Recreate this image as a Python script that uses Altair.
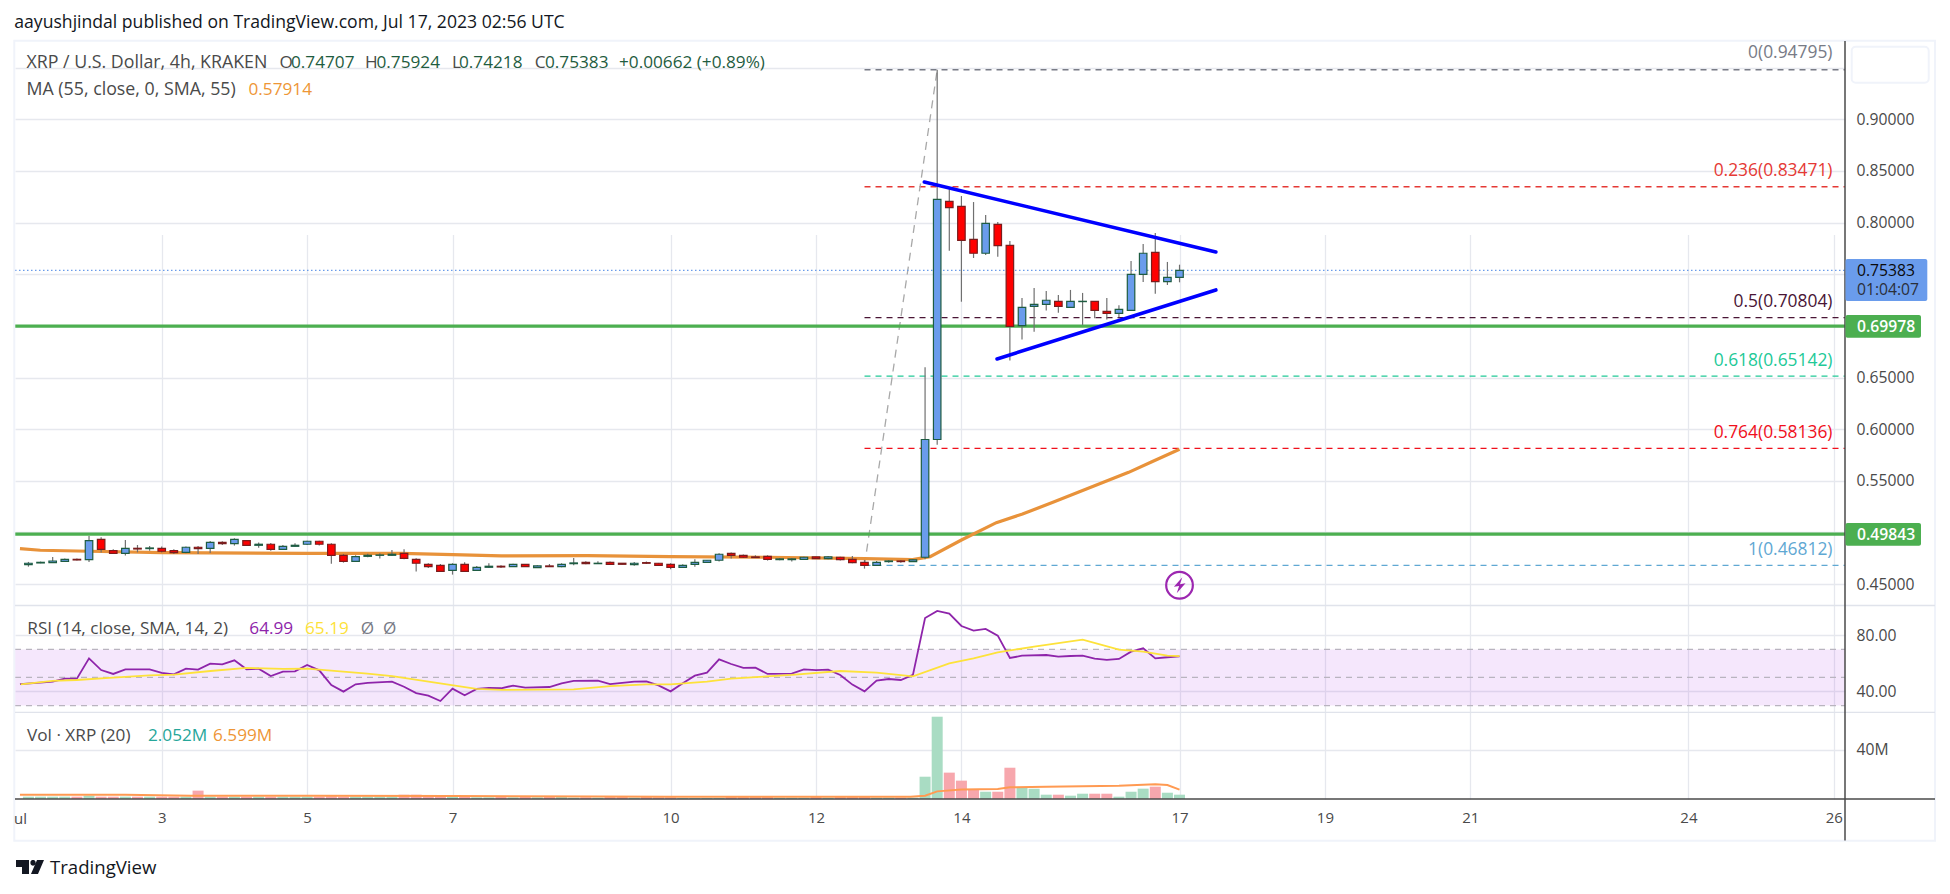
import altair as alt
import pandas as pd

FONT = "Open Sans"
TXT = 17.2
AXIS_TXT = 15.7

# ---------- data ----------
first_day = 1 + 1 / 6
bars_per_day = 6

opens = [.4689,.4705,.4708,.4721,.4740,.4737,.4934,.4824,.4798,.4847,.4844,.4847,.4824,.4808,.4857,.4847,.4905,.4892,.4921,.4876,
         .4886,.4837,.4866,.4886,.4915,.4886,.4779,.4721,.4769,.4779,.4779,.4798,.4740,.4692,.4682,.4634,.4692,.4634,.4663,.4673,
         .4669,.4692,.4660,.4676,.4669,.4698,.4711,.4698,.4711,.4702,.4689,.4708,.4702,.4692,.4663,.4692,.4711,.4731,.4798,.4779,
         .4763,.4769,.4737,.4737,.4740,.4763,.4747,.4760,.4740,.4711,.4682,.4718,.4724,.4718,
         .476,.59,.8206,.8157,.7838,.7703,.7983,.7780,.7002,.7189,.7209,.7238,.7180,.7235,.7238,.7141,.7122,.7151,.7499,.7712,.7428,.7470]
highs = [.4715,.4718,.4763,.4747,.4747,.4966,.4953,.4837,.4928,.4879,.4869,.4863,.4837,.4863,.4869,.4918,.4915,.4944,.4921,.4902,
         .4899,.4879,.4895,.4921,.4921,.4895,.4792,.4779,.4795,.4798,.4831,.4837,.4750,.4702,.4695,.4702,.4711,.4676,.4702,.4682,
         .4698,.4695,.4682,.4695,.4702,.4753,.4721,.4721,.4718,.4705,.4715,.4718,.4705,.4702,.4692,.4740,.4734,.4798,.4805,.4786,
         .4779,.4779,.4753,.4753,.4766,.4766,.4773,.4766,.4773,.4734,.4724,.4734,.4734,.4740,
         .66,.94795,.8322,.8257,.8199,.8073,.8006,.7822,.7270,.7367,.7338,.7299,.7348,.7319,.7238,.7270,.7199,.7628,.7793,.7899,.7619,.75924]
lows = [.4669,.4702,.4708,.4715,.4728,.4715,.4805,.4792,.4776,.4808,.4824,.4805,.4792,.4798,.4792,.4802,.4879,.4873,.4876,.4853,
        .4824,.4831,.4863,.4879,.4873,.4698,.4708,.4715,.4760,.4747,.4773,.4740,.4621,.4657,.4618,.4592,.4621,.4631,.4657,.4657,
        .4666,.4666,.4657,.4666,.4663,.4682,.4692,.4695,.4689,.4689,.4679,.4695,.4679,.4644,.4657,.4669,.4708,.4718,.4747,.4753,
        .4753,.4728,.4731,.4718,.4734,.4744,.4740,.4728,.4702,.4650,.4676,.4708,.4708,.4715,
        .474,.585,.7728,.7234,.7657,.7686,.7670,.6664,.6867,.6944,.7148,.7128,.7180,.7009,.7073,.7063,.7083,.7151,.7425,.7312,.7396,.74218]
closes = [.4702,.4711,.4724,.4740,.4734,.4921,.4837,.4798,.4847,.4840,.4850,.4818,.4805,.4857,.4844,.4905,.4892,.4934,.4876,.4886,
          .4837,.4866,.4876,.4915,.4886,.4779,.4721,.4766,.4779,.4782,.4789,.4750,.4702,.4669,.4624,.4692,.4624,.4663,.4673,.4666,
          .4692,.4669,.4676,.4669,.4692,.4705,.4698,.4702,.4692,.4692,.4702,.4702,.4682,.4663,.4682,.4711,.4731,.4789,.4779,.4760,
          .4757,.4740,.4744,.4744,.4760,.4747,.4763,.4737,.4708,.4682,.4711,.4724,.4718,.4734,
          .59,.8225,.8144,.7828,.7703,.7993,.7777,.6996,.7180,.7209,.7248,.7189,.7238,.7238,.7151,.7122,.7160,.7499,.7703,.7428,.7470,.75383]

volumes = [1.9,1.9,1.9,1.9,1.9,2.7,1.9,1.9,1.9,1.9,1.9,1.9,1.9,1.9,6.8,1.9,1.9,1.9,1.9,1.9,
           1.9,1.9,1.9,1.9,1.9,2.2,1.9,1.9,1.9,1.9,1.9,3.5,3.5,2.2,1.9,1.9,2.4,1.35,1.35,
           2.2,1.35,2.2,1.35,2.2,1.6,1.1,1.35,1.1,1.9,1.9,1.1,1.6,1.35,1.35,.8,.8,.8,.8,2.4,
           1.6,1.6,1.9,1.1,1.1,1.1,1.9,1.1,1.6,2.2,2.2,1.1,1.1,1.1,1.1,
           18.1,66.8,21.4,14.9,7.6,5.9,5.9,25.4,9.2,8.4,3.5,3.5,2.7,4.3,4.3,4.3,1.9,5.9,8.4,10,5.1,3.5]
volume_sides = list("GGGGRGRRGRGRRGRGRGRGRGGGRRRGGGGRRRRGRGG"
                    "RGRGRGGRGRRGRRRGGGGRRRRGGGRGRRRGGRG"
                    "GGRRRGRRGGGRGGRRGGGRGG")

ma_days = [1.05,1.33,2,3,5,6.3,7,7.67,8.85,10,11.33,12.67,13.33,13.57,14,14.48,14.84,15.25,15.71,16.3,16.62,17]
ma_values = [.4844,.4828,.4818,.4805,.4798,.4798,.4786,.4773,.4776,.4766,.4760,.4747,.4737,.4766,.4927,.5095,.5179,.5289,.5418,.5582,.5685,.5805]

rsi_days = [1.05,1.33,1.5,1.667,1.833,2,2.167,2.333,2.5,2.667,2.833,3,3.167,3.333,3.5,3.667,3.833,4,4.167,4.333,4.5,4.667,4.833,5,5.167,5.333,5.5,5.667,5.833,6.167,6.333,6.5,6.667,6.833,7,7.167,7.333,7.5,7.667,
            7.833,8,8.333,8.5,8.667,9,9.167,9.333,9.5,9.667,9.833,10,10.167,10.333,10.5,10.667,10.833,11,11.167,11.333,11.667,11.833,12,12.167,12.333,12.5,12.667,12.833,13,13.167,13.333,
            13.5,13.667,13.833,14,14.167,14.333,14.5,14.667,14.833,15.167,15.333,15.5,15.667,15.833,16,16.167,16.333,16.5,16.667,16.833,17]
rsi_values = [45.3,46.3,47,49.2,49.2,63.6,55.3,52.5,55.8,55.8,55.8,53.2,52.2,56.3,55.6,59.8,59.4,62.2,55.8,56.3,51,54.1,54.4,58.9,55.1,44.6,39.9,45.1,46.1,47,43.4,38.9,37,33.2,42,37.3,41.8,42.5,42.3,
              44.2,42.7,43.2,45.8,47.5,47.7,45.3,46.1,47,47.2,44.4,40.1,45.8,51.3,53.4,62.9,59.6,56.8,57,52.5,52.7,55.8,55.3,55.6,51.8,44.9,40.1,47.7,48.9,48.2,51.8,
              92.4,97.4,95.5,86.7,83.4,84.6,79.8,63.9,65.5,66,64.8,65.3,65.5,63.4,62.5,63.2,68.4,70.8,63.6,64.4,64.99]
rsi_ma_days = [1.06,1.5,1.83,2.33,2.83,3.17,3.67,4.17,4.67,5,5.33,5.83,6.17,6.83,7.33,7.68,8.2,8.667,9.167,9.667,10,10.5,10.833,11.167,11.667,12.333,12.833,13.333,13.833,14.167,14.5,15,15.667,16.167,16.5,16.833,17]
rsi_ma_values = [45.1,47.5,48.2,49.9,51.5,52,54.6,56.8,56.1,56.3,54.9,52.7,51,45.8,41.8,41.1,41.3,41.5,43.9,45.1,45.1,47,49.2,50.3,51.8,54.6,53.4,50.8,60.1,63.6,67.9,72,77,69.8,68.4,65.5,65.19]

vol_ma_days = [1.05,2.5,3.4,5,7,9,10,12,13.3,13.5,13.667,14,14.5,14.667,15.167,16.167,16.667,16.833,17]
vol_ma_values = [3.5,3.4,2.7,2.7,2.4,2,1.9,1.9,1.9,2.7,6.2,7.8,8.1,9.5,10,10.8,11.9,11.4,7.6]

fib_start_day = 12.667
spike_day = 13.667
fib_levels = [0.94795, 0.83471, 0.70804, 0.65142, 0.58136, 0.46812]
fib_colors = ["#787b86", "#e53935", "#4a1535", "#22c997", "#f0101c", "#5fa8d3"]
fib_texts = ["0(0.94795)", "0.236(0.83471)", "0.5(0.70804)", "0.618(0.65142)", "0.764(0.58136)", "1(0.46812)"]

support_levels = [0.69978, 0.49843]
last_price = 0.75383
upper_days = [13.49, 17.5]
upper_values = [.8393, .7715]
lower_days = [14.49, 17.5]
lower_values = [.668, .7348]

date_ticks = [3, 5, 7, 10, 12, 14, 17, 19, 21, 24, 26]
price_ticks = [.45, .5, .55, .6, .65, .7, .75, .8, .85, .9, .95]
rsi_ticks = [40, 80]
vol_ticks = [40]
rsi_levels = [70, 50, 30]

# ---------- layout ----------
W, H = 1830, 758
OX, OY = 15, 41  # page position of the plot origin
GRID = "#e6e8ee"
AXIS_TEXT = "#4a4a4a"

X_SCALE = alt.Scale(domain=[1.0506, 26.085], range=[0, W], nice=False, zero=False)
PRICE_SCALE = alt.Scale(domain=[.4293, .9758], range=[564.5, 0], nice=False, zero=False)
RSI_SCALE = alt.Scale(domain=[25.1, 101.3], range=[671.4, 564.5], nice=False, zero=False)
VOL_SCALE = alt.Scale(domain=[0, 70.3], range=[H, 671.4], nice=False, zero=False)


def X(field):
    return alt.X(field, type="quantitative", scale=X_SCALE)


def XD(value):
    return alt.X(datum=value, type="quantitative", scale=X_SCALE)


def Y(field, scale):
    return alt.Y(field, type="quantitative", scale=scale)


def YD(value, scale):
    return alt.Y(datum=value, type="quantitative", scale=scale)


def y_axis(values, fmt=None, expr=None):
    kw = dict(orient="right", values=values, grid=True, gridColor=GRID, gridWidth=1.3, domain=False,
              ticks=False, labelPadding=11, labelColor=AXIS_TEXT, labelFont=FONT, labelFontSize=AXIS_TXT,
              title=None, labelOverlap=False, labelFlush=False, labelBound=False)
    if fmt:
        kw["format"] = fmt
    if expr:
        kw["labelExpr"] = expr
    return alt.Axis(**kw)


# ---------- tables ----------
candle_days = [first_day + i / bars_per_day for i in range(len(closes))]
candles = pd.DataFrame({"day": candle_days, "open": opens, "high": highs, "low": lows, "close": closes})
candles["top"] = candles[["open", "close"]].max(axis=1)
candles["bottom"] = candles[["open", "close"]].min(axis=1)
up = candles[candles.close >= candles.open]
down = candles[candles.close < candles.open]

vol = pd.DataFrame({"day": candle_days, "v": volumes, "side": volume_sides})
ma = pd.DataFrame({"day": ma_days, "v": ma_values})
rsi = pd.DataFrame({"day": rsi_days, "v": rsi_values})
rsi_ma = pd.DataFrame({"day": rsi_ma_days, "v": rsi_ma_values})
vol_ma = pd.DataFrame({"day": vol_ma_days, "v": vol_ma_values})
one = alt.InlineData(values=[{"a": 1}])

# the price labels that sit under a price tag or the empty box have no text of their own
PRICE_LABELS = ("indexof(['0.50000','0.70000','0.75000','0.95000'], format(datum.value,'.5f')) >= 0"
                " ? '' : format(datum.value,'.5f')")

# ---------- price pane ----------
price_layers = []
price_layers.append(
    alt.Chart(one).mark_rule(color=GRID, opacity=0).encode(
        x=alt.X(datum=3, type="quantitative", scale=X_SCALE,
                axis=alt.Axis(values=date_ticks, format="d", grid=True, gridColor=GRID, gridWidth=1.3,
                              domain=False, ticks=False, labelPadding=11, labelColor=AXIS_TEXT,
                              labelFont=FONT, labelFontSize=15, title=None, labelOverlap=False,
                              labelFlush=False, labelBound=False)),
        y=alt.Y(datum=.9, type="quantitative", scale=PRICE_SCALE, axis=y_axis(price_ticks, expr=PRICE_LABELS)),
    )
)
for lvl, col in zip(fib_levels, fib_colors):
    price_layers.append(
        alt.Chart(one).mark_rule(color=col, strokeWidth=1.3, strokeDash=[6, 5]).encode(
            x=XD(fib_start_day), x2=alt.value(W), y=YD(lvl, PRICE_SCALE))
    )
diag = pd.DataFrame({"day": [fib_start_day, spike_day], "v": [fib_levels[-1], fib_levels[0]]})
price_layers.append(alt.Chart(diag).mark_line(color="#a8a8a8", strokeWidth=1.3, strokeDash=[8, 6]).encode(
    x=X("day"), y=Y("v", PRICE_SCALE)))
price_layers.append(alt.Chart(one).mark_rule(color="#6a9cea", strokeWidth=1.2, strokeDash=[1.5, 2.5]).encode(
    x=alt.value(0), x2=alt.value(W), y=YD(last_price, PRICE_SCALE)))
for lvl in support_levels:
    price_layers.append(alt.Chart(one).mark_rule(color="#4caf50", strokeWidth=3.2).encode(
        x=alt.value(0), x2=alt.value(W), y=YD(lvl, PRICE_SCALE)))
price_layers.append(alt.Chart(ma).mark_line(color="#e8923a", strokeWidth=3.2).encode(
    x=X("day"), y=Y("v", PRICE_SCALE)))
price_layers.append(alt.Chart(candles).mark_rule(color="#707070", strokeWidth=1.2).encode(
    x=X("day"), y=Y("high", PRICE_SCALE), y2="low"))
price_layers.append(alt.Chart(up).mark_bar(size=7.5, color="#6a9cec", stroke="#1e5c42", strokeWidth=1.2, orient="vertical").encode(
    x=X("day"), y=Y("top", PRICE_SCALE), y2="bottom"))
price_layers.append(alt.Chart(down).mark_bar(size=7.5, color="#ff0000", stroke="#7a1c1c", strokeWidth=1.2, orient="vertical").encode(
    x=X("day"), y=Y("top", PRICE_SCALE), y2="bottom"))
for ds, vs in ((upper_days, upper_values), (lower_days, lower_values)):
    price_layers.append(alt.Chart(pd.DataFrame({"day": ds, "v": vs})).mark_line(
        color="#0000ff", strokeWidth=3.6, strokeCap="round").encode(x=X("day"), y=Y("v", PRICE_SCALE)))
# lightning badge
price_layers.append(alt.Chart(one).mark_point(shape="circle", size=710, filled=False, color="#9c27b0", strokeWidth=2.2, opacity=1).encode(
    x=XD(17.0), y=YD(.4489, PRICE_SCALE)))
price_layers.append(alt.Chart(one).mark_point(
    shape="M.35,-1 L-.7,.2 L-.05,.1 L-.35,1 L.75,-.25 L.05,-.12 Z", size=256, filled=True, color="#9c27b0", opacity=1).encode(
    x=XD(17.0), y=YD(.4489, PRICE_SCALE)))
price = alt.layer(*price_layers)

# ---------- RSI pane ----------
rsi_layers = [
    alt.Chart(one).mark_rect(color="#a020e0", opacity=.11).encode(
        x=alt.value(0), x2=alt.value(W),
        y=alt.Y(datum=rsi_levels[0], type="quantitative", scale=RSI_SCALE, axis=y_axis(rsi_ticks, fmt=".2f")),
        y2=alt.Y2(datum=rsi_levels[2]))
]
for lvl in rsi_levels:
    rsi_layers.append(alt.Chart(one).mark_rule(color="#b9b4bf", strokeWidth=1.2, strokeDash=[6, 5]).encode(
        x=alt.value(0), x2=alt.value(W), y=YD(lvl, RSI_SCALE)))
rsi_layers.append(alt.Chart(rsi).mark_line(color="#8e24aa", strokeWidth=1.8).encode(x=X("day"), y=Y("v", RSI_SCALE)))
rsi_layers.append(alt.Chart(rsi_ma).mark_line(color="#fde23a", strokeWidth=1.8).encode(x=X("day"), y=Y("v", RSI_SCALE)))
rsi_pane = alt.layer(*rsi_layers)

# ---------- volume pane ----------
vol_layers = [
    alt.Chart(one).mark_rule(opacity=0).encode(
        x=alt.value(0), x2=alt.value(W),
        y=alt.Y(datum=40, type="quantitative", scale=VOL_SCALE, axis=y_axis(vol_ticks, expr="'40M'"))),
    alt.Chart(vol[vol.side == "G"]).mark_bar(size=11, color="#a9dcc3", orient="vertical").encode(
        x=X("day"), y=Y("v", VOL_SCALE)),
    alt.Chart(vol[vol.side == "R"]).mark_bar(size=11, color="#f7a7ad", orient="vertical").encode(
        x=X("day"), y=Y("v", VOL_SCALE)),
    alt.Chart(vol_ma).mark_line(color="#ff9a52", strokeWidth=2).encode(x=X("day"), y=Y("v", VOL_SCALE)),
]
vol_pane = alt.layer(*vol_layers)


# ---------- page furniture (page coordinates) ----------
def text(s, x, y, color="#4a4a4a", size=TXT, align="left", weight="normal"):
    return alt.Chart(one).mark_text(text=s, align=align, baseline="middle", font=FONT, fontSize=size,
                                    color=color, fontWeight=weight).encode(
        x=alt.value(x - OX), y=alt.value(y - OY))


def box(x0, y0, x1, y1, fill=None, stroke=None, sw=1, radius=0):
    kw = {}
    if fill:
        kw["fill"] = fill
    else:
        kw["fillOpacity"] = 0
    if stroke:
        kw["stroke"] = stroke
        kw["strokeWidth"] = sw
    if radius:
        kw["cornerRadius"] = radius
    return alt.Chart(one).mark_rect(**kw).encode(
        x=alt.value(x0 - OX), x2=alt.value(x1 - OX), y=alt.value(y0 - OY), y2=alt.value(y1 - OY))


def hrule(x0, x1, y, color, sw=1):
    return alt.Chart(one).mark_rule(color=color, strokeWidth=sw).encode(
        x=alt.value(x0 - OX), x2=alt.value(x1 - OX), y=alt.value(y - OY))


def vrule(x, y0, y1, color, sw=1):
    return alt.Chart(one).mark_rule(color=color, strokeWidth=sw).encode(
        x=alt.value(x - OX), y=alt.value(y0 - OY), y2=alt.value(y1 - OY))


GREEN_TXT = "#1f5c3f"
extras = [
    box(1845.7, 800.5, 1934, 838, fill="#ffffff"),  # hides the part of the "26" past the price scale
    box(14.3, 40.7, 1935, 840.8, stroke="#f0f3fa", sw=2),
    hrule(15, 1935, 605.5, "#e0e3eb", 1.3),
    hrule(15, 1935, 712.4, "#e0e3eb", 1.3),
    hrule(15, 1935, OY + H, "#4a4a4a", 1.5),
    vrule(1845, 41, 840.5, "#4a4a4a", 1.5),
    box(1851.7, 46.7, 1928.7, 82.7, fill="#ffffff", stroke="#f0f3fa", sw=2, radius=4),
    box(1845.5, 259, 1927.3, 301, fill="#6a9cec", radius=2),
    text("0.75383", 1857, 271, color="#0a0a0a", size=AXIS_TXT),
    text("01:04:07", 1857, 290, color="#2a2f3a", size=AXIS_TXT),
    box(1845.5, 315, 1921, 337.7, fill="#4caf50", radius=2),
    text("0.69978", 1857, 327, color="#ffffff", weight=600, size=AXIS_TXT),
    box(1845.5, 523, 1921, 545.7, fill="#4caf50", radius=2),
    text("0.49843", 1857, 535, color="#ffffff", weight=600, size=AXIS_TXT),
    text("ul", 14, 819, color=AXIS_TEXT, size=15),
    text("aayushjindal published on TradingView.com, Jul 17, 2023 02:56 UTC", 14.3, 22.7, color="#131722", size=17.6),
    text("XRP / U.S. Dollar, 4h, KRAKEN", 26.5, 63, size=17.8),
    text("O", 279.6, 63), text("0.74707", 291, 63, color=GREEN_TXT),
    text("H", 365, 63), text("0.75924", 376.5, 63, color=GREEN_TXT),
    text("L", 452, 63), text("0.74218", 459, 63, color=GREEN_TXT),
    text("C", 534.7, 63), text("0.75383", 545, 63, color=GREEN_TXT),
    text("+0.00662 (+0.89%)", 619, 63, color=GREEN_TXT),
    text("MA (55, close, 0, SMA, 55)", 26.5, 90, size=17.8),
    text("0.57914", 248.5, 90, color="#ee9636"),
    text("RSI (14, close, SMA, 14, 2)", 27.3, 629),
    text("64.99", 249.3, 629, color="#8e24aa"),
    text("65.19", 305, 629, color="#fde23a"),
    text("\u00d8", 360.7, 629, color="#787b86"),
    text("\u00d8", 383, 629, color="#787b86"),
    text("Vol \u00b7 XRP (20)", 27, 736),
    text("2.052M", 148, 736, color="#26a69a"),
    text("6.599M", 213, 736, color="#ee9636"),
    text("TradingView", 50, 868, color="#131722", size=18.6),
    alt.Chart(one).mark_point(
        shape="M-1,-.5 L-.071,-.5 L-.071,.5 L-.571,.5 L-.571,0 L-1,0 Z "
              "M.03,-.3 A.186,.186 0 1,0 .4,-.3 A.186,.186 0 1,0 .03,-.3 Z "
              "M.5,-.5 L1,-.5 L.571,.5 L.071,.5 Z",
        size=784, filled=True, color="#131722", opacity=1).encode(
        x=alt.value(30 - OX), y=alt.value(867 - OY)),
]
fib_label_y = [53.3, 171, 301.7, 361.3, 433.2, 549.8]
for t, col, yy in zip(fib_texts, fib_colors, fib_label_y):
    extras.append(text(t, 1832.5, yy, color=col, align="right", size=17.4))

chart = alt.layer(price, rsi_pane, vol_pane, *extras).resolve_scale(y="independent").properties(
    width=W, height=H,
    padding={"left": 7, "top": 33, "right": 97, "bottom": 87},
    autosize=alt.AutoSizeParams(type="none"),
    background="#ffffff",
).configure_view(strokeWidth=0)

chart.save("out.html", embed_options={"renderer": "svg", "actions": False})
